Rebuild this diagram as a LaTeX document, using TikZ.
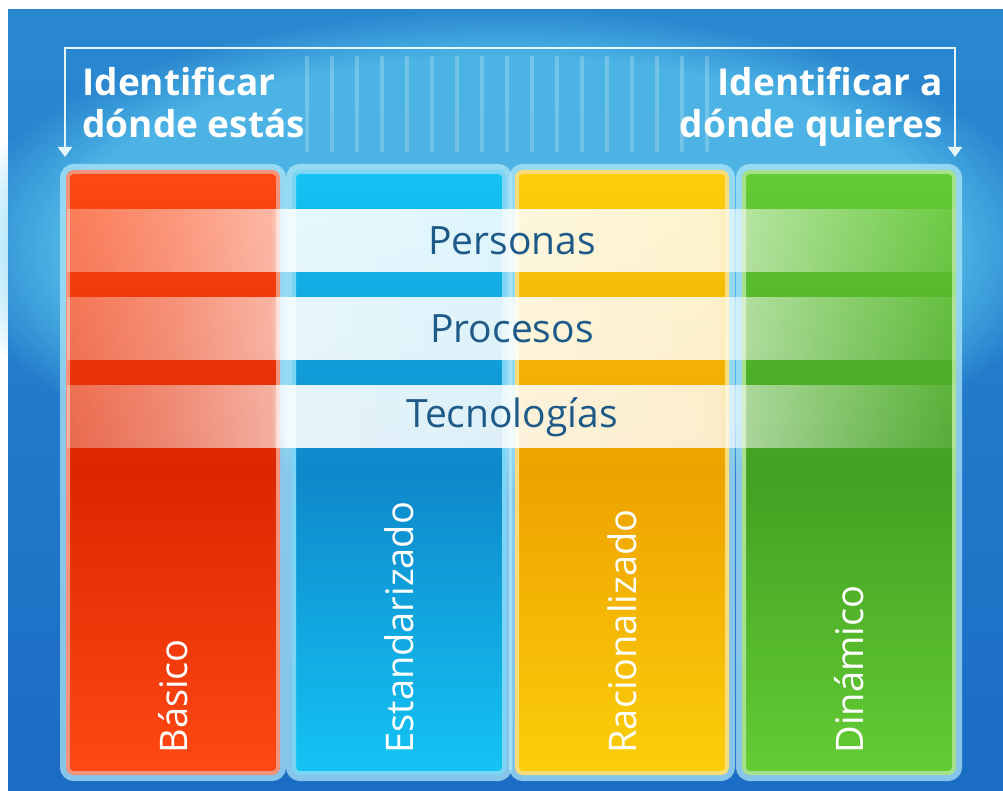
\documentclass[tikz,border=0pt]{standalone}
\usepackage{fontspec}
\setmainfont{Open Sans}
\usetikzlibrary{arrows.meta}
\usetikzlibrary{fadings}
\usetikzlibrary{positioning}

\definecolor{bgtop}{HTML}{2A88D0}
\definecolor{bgbot}{HTML}{1B6CC4}
\definecolor{bgglow}{HTML}{5CC8EE}
\definecolor{linec}{HTML}{E2F6FC}
\definecolor{glowc}{HTML}{B4EAFA}
\definecolor{bandtext}{HTML}{1E5A88}
\definecolor{redtop}{HTML}{FF4812}
\definecolor{redmid}{HTML}{DC2600}
\definecolor{redline}{HTML}{F4927A}
\definecolor{bluetop}{HTML}{14C4F4}
\definecolor{bluemid}{HTML}{0E88CA}
\definecolor{blueline}{HTML}{7AD6F4}
\definecolor{yeltop}{HTML}{FBCE0A}
\definecolor{yelmid}{HTML}{EEA200}
\definecolor{yelline}{HTML}{FADC7A}
\definecolor{gretop}{HTML}{64CC34}
\definecolor{gremid}{HTML}{42A022}
\definecolor{greline}{HTML}{A6E08A}

\pgfdeclarehorizontalshading{bandshade}{100bp}{rgb(0bp)=(0.3,0.3,0.3); rgb(25bp)=(0.3,0.3,0.3);
    rgb(31bp)=(0.45,0.45,0.45); rgb(36.5bp)=(0.62,0.62,0.62); rgb(37.5bp)=(0.9,0.9,0.9);
    rgb(50bp)=(0.86,0.86,0.86); rgb(61.5bp)=(0.8,0.8,0.8); rgb(62.75bp)=(0.55,0.55,0.55);
    rgb(69bp)=(0.3,0.3,0.3); rgb(75bp)=(0.08,0.08,0.08); rgb(100bp)=(0.08,0.08,0.08)}
\tikzfading[name=bandfade, shading=bandshade]

\tikzset{
    stripe/.style={draw=white, opacity=0.22, line width=2pt},
    bracket/.style={draw=linec, line width=1pt, {Triangle[width=7pt,length=5pt]}-{Triangle[width=7pt,length=5pt]}},
    title/.style={text=white, inner sep=0pt, font=\bfseries\fontsize{18.5}{21}\selectfont},
    colbox/.style={rounded corners=3pt, minimum width=105pt, minimum height=300.5pt, inner sep=0pt,
        line width=2pt, preaction={draw=glowc, line width=8pt, draw opacity=0.7}},
    collabel/.style={text=white, rotate=90, anchor=west, inner sep=0pt, font=\fontsize{19}{21}\selectfont},
    band/.style={fill=white, path fading=bandfade, minimum width=444.5pt, minimum height=31.5pt,
        inner sep=0pt, text=bandtext, font=\fontsize{19.5}{22}\selectfont}
}

\begin{document}
\begin{tikzpicture}[x=0.5pt, y=-0.5pt]
    \useasboundingbox (0,0) rectangle (1003,791);
    \fill[top color=bgtop, bottom color=bgbot] (8,10) rectangle (1003,791);
    \fill[bgglow, opacity=0.7, path fading=circle with fuzzy edge 20 percent] (505,250) ellipse [x radius=560, y radius=240];

    \foreach \x in {307,332,...,707}
        \draw[stripe] (\x,56) -- (\x,152);

    \coordinate (tl) at (65,48);
    \coordinate (tr) at (955,48);
    \coordinate (bl) at (65,157);
    \coordinate (br) at (955,157);
    \draw[bracket] (bl) -- (tl) -- (tr) -- (br);

    \node at (82,67) [title, anchor=north west, align=left] (here) {Identificar\\dónde estás};
    \node at (943,67) [title, anchor=north east, align=right] (there) {Identificar a\\dónde quieres};

    \foreach \x/\n/\ct/\cm/\cl/\t in {173/basic/redtop/redmid/redline/Básico,
            399/standard/bluetop/bluemid/blueline/Estandarizado,
            622/rational/yeltop/yelmid/yelline/Racionalizado,
            849/dynamic/gretop/gremid/greline/Dinámico} {
        \node at (\x,472.5) [colbox, draw=\cl, top color=\ct, bottom color=\ct, middle color=\cm] (\n) {};
        \node at ([yshift=10.5pt]\n.south) [collabel] (\n label) {\t};
    }

    \foreach \y/\n/\t in {241/people/Personas, 329/process/Procesos, 417/tech/Tecnologías}
        \node at (512,\y) [band] (\n) {\t};
\end{tikzpicture}
\end{document}
